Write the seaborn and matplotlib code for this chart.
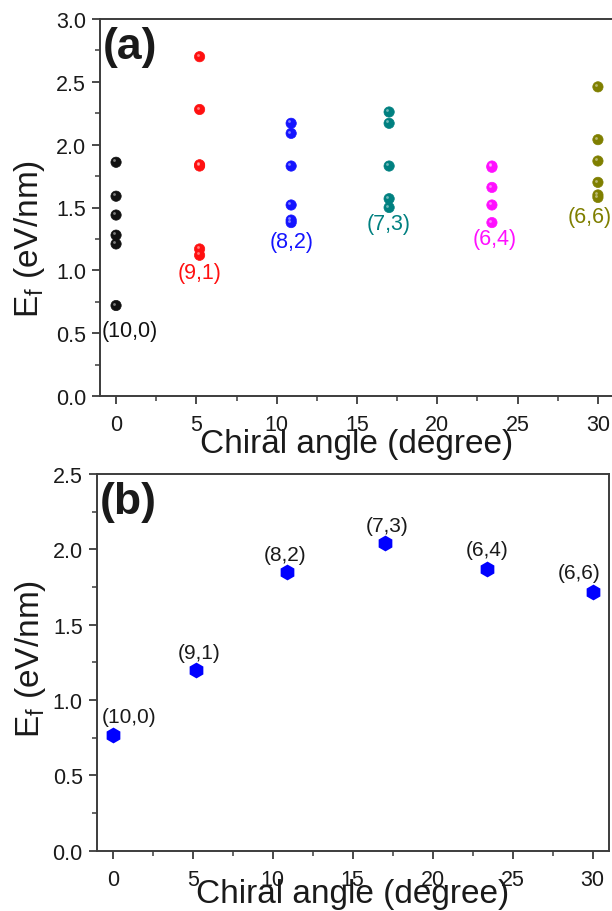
import numpy as np
import pandas as pd
import seaborn as sns
import matplotlib
matplotlib.use("Agg")
import matplotlib.pyplot as plt
from matplotlib.ticker import MultipleLocator
from matplotlib.transforms import offset_copy

# ---- data ---------------------------------------------------------------
tubes = ["(10,0)", "(9,1)", "(8,2)", "(7,3)", "(6,4)", "(6,6)"]
chiral_angle = [0.0, 5.2, 10.9, 17.0, 23.4, 30.0]

# formation energies of the individual configurations for each tube (eV/nm)
ef_10_0 = [1.86, 1.59, 1.44, 1.28, 1.21, 0.72]
ef_9_1 = [2.70, 2.28, 1.84, 1.83, 1.17, 1.12]
ef_8_2 = [2.17, 2.09, 1.83, 1.52, 1.40, 1.38]
ef_7_3 = [2.26, 2.17, 1.83, 1.57, 1.50]
ef_6_4 = [1.83, 1.82, 1.66, 1.52, 1.38]
ef_6_6 = [2.46, 2.04, 1.87, 1.70, 1.60, 1.58]

# representative formation energy per tube (eV/nm)
ef_tube = [0.77, 1.20, 1.85, 2.04, 1.87, 1.72]

tube_colors = ["#111111", "#ff1010", "#1414ff", "#008080", "#ff10ff", "#7f7f00"]

# ---- styling ------------------------------------------------------------
sns.set_theme(style="ticks")
plt.rcParams["font.family"] = ["Liberation Sans", "DejaVu Sans"]
plt.rcParams["mathtext.fontset"] = "custom"
plt.rcParams["mathtext.rm"] = "Liberation Sans"
plt.rcParams["mathtext.it"] = "Liberation Sans:italic"

spine_col = "#3c3c3c"
text_col = "#1a1a1a"

all_ef = [ef_10_0, ef_9_1, ef_8_2, ef_7_3, ef_6_4, ef_6_6]
rows = []
for name, ang, vals in zip(tubes, chiral_angle, all_ef):
    for v in vals:
        rows.append({"tube": name, "angle": ang, "ef": v})
df_all = pd.DataFrame(rows)
df_tube = pd.DataFrame({"tube": tubes, "angle": chiral_angle, "ef": ef_tube})

fig = plt.figure(figsize=(6.12, 9.12), dpi=100)
ax_a = fig.add_axes([100 / 612, 1 - 397 / 912, 514 / 612, 377 / 912])
ax_b = fig.add_axes([96.7 / 612, 1 - 851.7 / 912, 512 / 612, 376.7 / 912])


def style_axes(ax, ymax):
    ax.set_xlim(-1, 31)
    ax.set_ylim(0, ymax)
    ax.xaxis.set_major_locator(MultipleLocator(5))
    ax.xaxis.set_minor_locator(MultipleLocator(2.5))
    ax.yaxis.set_major_locator(MultipleLocator(0.5))
    ax.yaxis.set_minor_locator(MultipleLocator(0.25))
    ax.yaxis.set_major_formatter(matplotlib.ticker.FormatStrFormatter("%.1f"))
    for s in ax.spines.values():
        s.set_color(spine_col)
        s.set_linewidth(1.4)
    ax.tick_params(which="major", direction="out", length=6, width=1.3,
                   color=spine_col, labelsize=15.5, labelcolor=text_col)
    ax.tick_params(which="minor", direction="out", length=3.5, width=1.1,
                   color=spine_col)
    ax.tick_params(axis="x", which="major", pad=7)
    ax.tick_params(axis="y", which="major", pad=4)
    ax.set_xlabel("Chiral angle (degree)", fontsize=24, color=text_col)
    ax.xaxis.label.set_va("baseline")
    ax.set_ylabel(r"E$_{\mathregular{f}}$ (eV/nm)", fontsize=24, color=text_col)
    ax.yaxis.label.set_va("center")
    ax.set_facecolor("white")


# ---- (a) all configurations ---------------------------------------------
sns.scatterplot(data=df_all, x="angle", y="ef", hue="tube", hue_order=tubes,
                palette=tube_colors, s=55, marker="o", linewidth=0.5,
                edgecolor="face", legend=False, ax=ax_a, zorder=3)
# small specular highlight on each ball
hl = offset_copy(ax_a.transData, fig=fig, x=-1.3, y=1.3, units="points")
ax_a.scatter(df_all["angle"], df_all["ef"], s=4, color="white", alpha=0.45,
             linewidths=0, transform=hl, zorder=4)

label_off_a = [(14, -25), (0, -17), (0, -19), (0, -16), (3, -16), (-8, -19)]
for name, ang, vals, col, off in zip(tubes, chiral_angle, all_ef, tube_colors, label_off_a):
    ax_a.annotate(name, (ang, min(vals)), xytext=off, textcoords="offset pixels",
                  ha="center", va="center", fontsize=15.5, color=col)

style_axes(ax_a, 3.0)
ax_a.yaxis.set_label_coords(-0.138, 0.42)
ax_a.xaxis.set_label_coords(0.5, -0.1485)
ax_a.text(0.006, 0.928, "(a)", transform=ax_a.transAxes, fontsize=32,
          fontweight="bold", ha="left", va="center", color=text_col)

# ---- (b) one value per tube ---------------------------------------------
sns.scatterplot(data=df_tube, x="angle", y="ef", color="#0000ff", marker="h",
                s=130, linewidth=0, legend=False, ax=ax_b, zorder=3)
label_off_b = [(16, 18), (3, 17), (-2, 17), (2, 18), (0, 19), (-14, 19)]
for name, ang, v, off in zip(tubes, chiral_angle, ef_tube, label_off_b):
    ax_b.annotate(name, (ang, v), xytext=off, textcoords="offset pixels",
                  ha="center", va="center", fontsize=15, color=text_col)

style_axes(ax_b, 2.5)
ax_b.yaxis.set_label_coords(-0.13, 0.512)
ax_b.xaxis.set_label_coords(0.5, -0.136)
ax_b.text(0.006, 0.928, "(b)", transform=ax_b.transAxes, fontsize=32,
          fontweight="bold", ha="left", va="center", color=text_col)

fig.savefig("out.png", dpi=100, facecolor="white")
